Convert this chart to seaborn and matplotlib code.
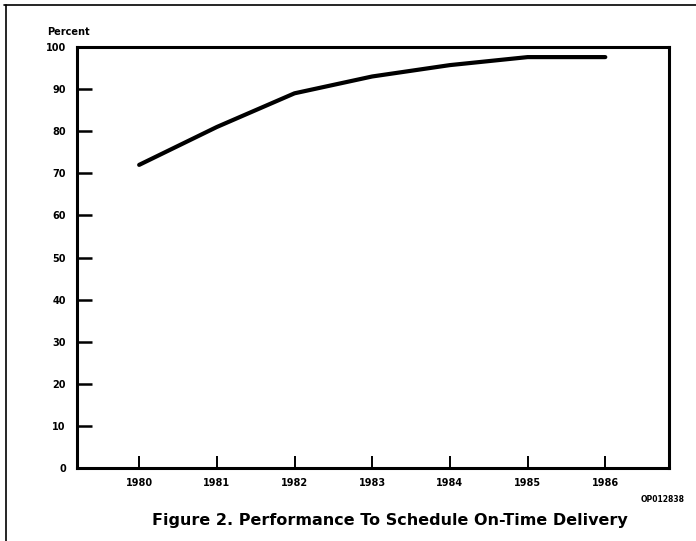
import matplotlib
matplotlib.use("Agg")
import matplotlib.pyplot as plt
import matplotlib.lines as mlines
import seaborn as sns
import pandas as pd

# values
years = [1980, 1981, 1982, 1983, 1984, 1985, 1986]
on_time_pct = [72.0, 81.0, 89.0, 93.0, 95.7, 97.6, 97.6]
y_ticks = [0, 10, 20, 30, 40, 50, 60, 70, 80, 90, 100]

df = pd.DataFrame({"year": years, "pct": on_time_pct})

sns.set_style("white")
plt.rcParams["font.family"] = ["DejaVu Sans"]
plt.rcParams["font.weight"] = "bold"
plt.rcParams["text.color"] = "black"

fig = plt.figure(figsize=(6.96, 5.41), dpi=100)
ax = fig.add_axes([77 / 696, 73 / 541, 592 / 696, 421 / 541])

sns.lineplot(data=df, x="year", y="pct", ax=ax, color="black", linewidth=3.0)

ax.set_xlim(1979.2, 1986.82)
ax.set_ylim(0, 100)
ax.set_xticks(years)
ax.set_xticklabels([str(y) for y in years], fontsize=7, fontweight="bold")
ax.set_yticks(y_ticks)
ax.set_yticklabels([str(v) for v in y_ticks], fontsize=7, fontweight="bold")
ax.tick_params(axis="y", left=True, direction="in", length=11, width=1.8, pad=8,
               color="black", labelcolor="black")
ax.tick_params(axis="x", bottom=True, direction="in", length=9, width=1.4, pad=7,
               color="black", labelcolor="black")
ax.set_xlabel("")
ax.set_ylabel("")
for s in ax.spines.values():
    s.set_linewidth(2.2)
    s.set_color("black")

fig.text(47 / 696, 1 - 32 / 541, "Percent", fontsize=7, fontweight="bold", va="center")
fig.text(663 / 696, 1 - 499 / 541, "OP012838", fontsize=5.5, fontweight="bold",
         ha="center", va="center")
fig.text(390 / 696, 1 - 521 / 541, "Figure 2. Performance To Schedule On-Time Delivery",
         fontsize=11.5, fontweight="bold", ha="center", va="center")

# scanned page frame
fig.add_artist(mlines.Line2D([4 / 696, 1.0], [1 - 5 / 541, 1 - 5 / 541], color="black", linewidth=1.2))
fig.add_artist(mlines.Line2D([6 / 696, 6 / 696], [0, 1 - 5 / 541], color="black", linewidth=1.2))

fig.savefig("out.png", dpi=100)
